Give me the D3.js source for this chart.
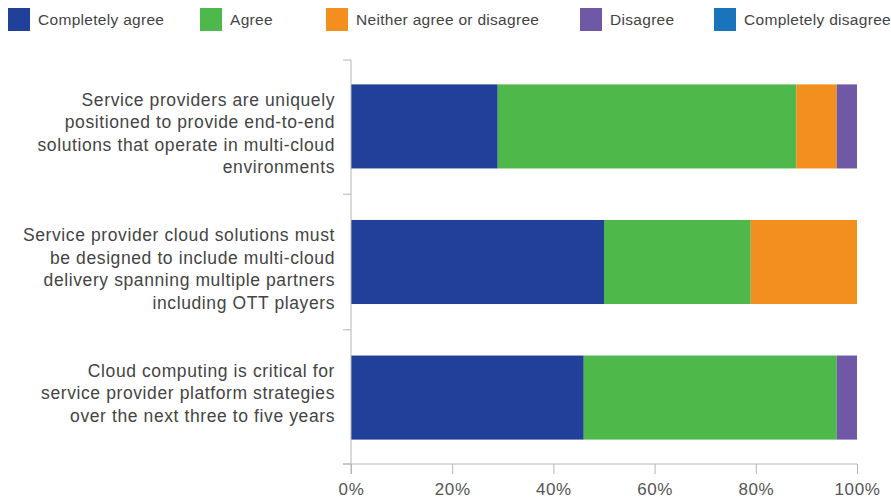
<!DOCTYPE html>
<html>
<head>
<meta charset="utf-8">
<script src="https://cdn.jsdelivr.net/npm/d3@7"></script>
<style>
  body { margin: 0; background: #fff; }
  svg { display: block; font-family: "Liberation Sans", Arial, sans-serif; }
  .axis path, .axis line { stroke: #b5b5b5; }
</style>
</head>
<body>
<svg width="891" height="499"></svg>
<script>
// Statements, top to bottom
const statements = [
  ['Service providers are uniquely', 'positioned to provide end-to-end', 'solutions that operate in multi-cloud', 'environments'],
  ['Service provider cloud solutions must', 'be designed to include multi-cloud', 'delivery spanning multiple partners', 'including OTT players'],
  ['Cloud computing is critical for', 'service provider platform strategies', 'over the next three to five years']
]
const answers = ['Completely agree', 'Agree', 'Neither agree or disagree', 'Disagree', 'Completely disagree']
const colours = ['#21409a', '#4fb84a', '#f28f1f', '#6f58a6', '#1a74bb']

// share of respondents (%) per answer, one array per statement
const completelyAgree = [29, 50, 46]
const agree = [59, 29, 50]
const neither = [8, 21, 0]
const disagree = [4, 0, 4]
const completelyDisagree = [0, 0, 0]

const xTicks = [0, 20, 40, 60, 80, 100]

const svg = d3.select('svg')
const plotLeft = 351, plotRight = 857, plotTop = 60, plotBottom = 464

const rows = statements.map((s, i) => ({
  id: i,
  values: [completelyAgree[i], agree[i], neither[i], disagree[i], completelyDisagree[i]]
}))

const x = d3.scaleLinear().domain([0, 100]).range([plotLeft, plotRight])
const y = d3.scaleBand().domain(rows.map(d => d.id)).range([plotTop, plotBottom]).paddingInner(0.38).paddingOuter(0.18)

const stack = d3.stack()
  .keys(d3.range(answers.length))
  .value((d, k) => d.values[k])
const series = stack(rows)

svg.append('g')
  .selectAll('g')
  .data(series)
  .enter().append('g')
  .attr('fill', (d, i) => colours[i])
  .selectAll('rect')
  .data(d => d)
  .enter().append('rect')
  .attr('x', d => x(d[0]))
  .attr('y', d => y(d.data.id))
  .attr('width', d => x(d[1]) - x(d[0]))
  .attr('height', y.bandwidth())

// x axis
const xAxis = svg.append('g')
  .attr('class', 'axis')
  .attr('transform', `translate(0,${plotBottom})`)
  .call(d3.axisBottom(x).tickValues(xTicks).tickSize(10).tickSizeOuter(0).tickFormat(d => d + '%'))
xAxis.select('.domain').attr('d', `M${plotLeft - 8},0H${plotRight}`)
xAxis.selectAll('text')
  .attr('y', 19)
  .attr('dy', '0.71em')
  .attr('font-size', 17)
  .attr('letter-spacing', 0.6)
  .attr('fill', '#555')
  .attr('font-family', '"Liberation Sans", Arial, sans-serif')

// y axis, ticks sit between the bands
const yAxis = svg.append('g').attr('class', 'axis')
yAxis.append('line')
  .attr('x1', plotLeft).attr('x2', plotLeft)
  .attr('y1', plotTop).attr('y2', plotBottom + 10)
const edges = [plotTop].concat(rows.map(d => y(d.id) + y.bandwidth() + (y.step() - y.bandwidth()) / 2))
edges[edges.length - 1] = plotBottom
yAxis.selectAll('.tk')
  .data(edges)
  .enter().append('line')
  .attr('x1', plotLeft - 8).attr('x2', plotLeft)
  .attr('y1', d => d).attr('y2', d => d)

// category labels, hung from the top of each bar
const lineH = 22.6
svg.append('g')
  .selectAll('text')
  .data(rows)
  .enter().append('text')
  .attr('text-anchor', 'end')
  .attr('font-size', 17.5)
  .attr('letter-spacing', 0.6)
  .attr('fill', '#444')
  .each(function (d) {
    const lines = statements[d.id]
    const t = d3.select(this)
    lines.forEach((l, j) => {
      t.append('tspan')
        .attr('x', 335)
        .attr('y', y(d.id) + 15 + j * lineH)
        .attr('dy', '0.35em')
        .text(l)
    })
  })

// legend
const legendX = [8, 200, 326, 580, 714]
const legend = svg.append('g')
  .selectAll('g')
  .data(answers)
  .enter().append('g')
  .attr('transform', (d, i) => `translate(${legendX[i]},8)`)
legend.append('rect')
  .attr('width', 22).attr('height', 23)
  .attr('fill', (d, i) => colours[i])
legend.append('text')
  .attr('x', 30).attr('y', 12)
  .attr('dy', '0.35em')
  .attr('font-size', 15.5)
  .attr('letter-spacing', 0.3)
  .attr('fill', '#444')
  .text(d => d)
</script>
</body>
</html>
